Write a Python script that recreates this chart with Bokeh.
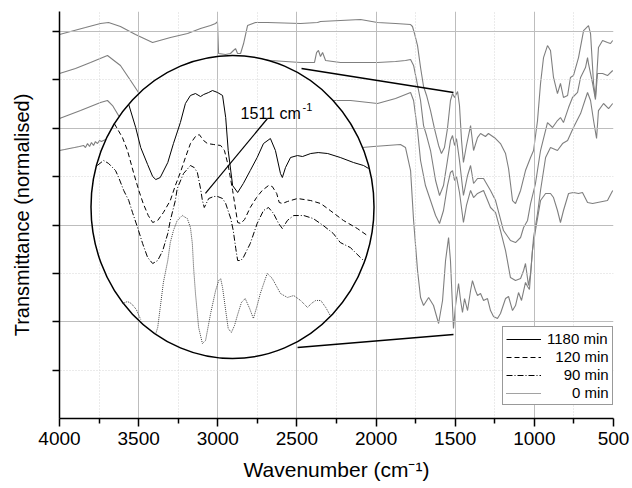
from bokeh.plotting import figure
from bokeh.models import Range1d, FixedTicker, Legend, LegendItem, Label
from bokeh.embed import file_html
from bokeh.resources import INLINE

NAN = float("nan")

# ---------------- data (wavenumber in cm-1, normalised transmittance, offset) ----------------
# main spectra
wn_1180 = [4000, 3930, 3836, 3741, 3690, 3615, 3520, 3412, 3299, 3191, 3109, 3046, 3014, 3002, 2995,
           2951, 2920, 2901, 2888, 2875, 2856, 2837, 2812, 2762, 2686, 2477, 2370, 2351, 2225, 2098,
           1991, 1877, 1782, 1770, 1757, 1738, 1719, 1700, 1681, 1656, 1631, 1605, 1587, 1568, 1549,
           1530, 1517, 1504, 1485, 1473, 1460, 1448, 1429, 1403, 1384, 1359, 1340, 1309, 1290, 1245,
           1214, 1182, 1163, 1151, 1138, 1119, 1087, 1056, 1024, 1005, 980, 961, 942, 917, 898,
           879, 854, 835, 816, 790, 772, 753, 721, 689, 658, 645, 626, 614, 595, 569, 538, 519, 505]
t_1180 = [3.969, 4.000, 4.041, 4.083, 4.093, 4.052, 3.969, 3.886, 3.938, 3.979, 4.031, 4.062, 4.083, 4.103, 3.773,
          3.762, 3.773, 3.804, 3.824, 3.773, 3.773, 3.876, 4.062, 4.093, 4.093, 4.083, 4.093, 4.103, 4.114, 4.124,
          4.093, 4.083, 4.072, 4.052, 3.979, 3.855, 3.628, 3.432, 3.339, 3.183, 2.997, 2.822, 2.739, 2.801, 2.997,
          3.287, 3.359, 3.318, 3.380, 3.235, 2.873, 2.646, 2.822, 3.028, 2.770, 2.904, 2.946, 2.915, 2.946, 2.894,
          2.842, 2.739, 2.584, 2.429, 2.253, 2.222, 2.357, 2.563, 2.698, 2.770, 3.080, 3.463, 3.731, 3.855, 3.804,
          3.525, 3.359, 3.463, 3.318, 3.339, 3.525, 3.545, 3.731, 4.010, 4.062, 3.979, 3.463, 3.318, 3.835, 3.907,
          3.886, 3.876, 3.907]

wn_120 = [4000, 3899, 3804, 3697, 3615, 3551, 3501, 3362, 3109, 2983, 2875, 2812, 2762, 2667, 2477,
          2389, 2376, 2364, 2351, 2338, 2319, 2225, 1991, 1877, 1814, 1782, 1763, 1744, 1719, 1700,
          1681, 1656, 1624, 1599, 1574, 1549, 1530, 1517, 1504, 1492, 1473, 1448, 1422, 1403, 1384,
          1359, 1321, 1277, 1245, 1195, 1151, 1119, 1087, 1068, 1043, 1024, 993, 961, 917, 885,
          854, 835, 816, 784, 759, 727, 708, 677, 664, 658, 632, 614, 601, 569, 538, 505]
t_120 = [3.566, 3.618, 3.680, 3.752, 3.649, 3.494, 3.370, 3.183, 3.287, 3.390, 3.660, 3.731, 3.721, 3.700, 3.680,
         3.680, 3.783, 3.804, 3.742, 3.783, 3.700, 3.680, 3.680, 3.690, 3.700, 3.711, 3.649, 3.494, 3.287, 3.028,
         2.925, 2.770, 2.460, 2.305, 2.408, 2.667, 2.873, 2.925, 2.822, 2.894, 2.667, 2.305, 2.512, 2.615, 2.429,
         2.481, 2.481, 2.357, 2.253, 1.943, 1.840, 1.819, 1.871, 1.974, 2.047, 2.222, 2.429, 2.770, 3.059, 3.008,
         3.080, 3.111, 3.059, 3.214, 3.318, 3.370, 3.525, 3.628, 3.731, 3.669, 3.463, 3.297, 3.566, 3.566, 3.545,
         3.597]

wn_90 = [4000, 3867, 3741, 3697, 3665, 3627, 3488, 3236, 2793, 2477, 2288, 2161, 1991, 1877, 1782,
         1763, 1738, 1719, 1688, 1656, 1624, 1599, 1574, 1549, 1530, 1517, 1504, 1492, 1473, 1448,
         1429, 1403, 1384, 1359, 1321, 1277, 1245, 1214, 1182, 1151, 1119, 1087, 1068, 1056, 1037,
         1024, 1005, 980, 961, 929, 898, 854, 822, 790, 753, 708, 664, 645, 626, 607,
         595, 563, 531, 505]
t_90 = [3.101, 3.183, 3.266, 3.287, 3.235, 3.132, 2.925, 2.977, 3.080, 3.183, 3.287, 3.287, 3.256, 3.308, 3.370,
        3.287, 2.977, 2.667, 2.408, 2.253, 2.098, 2.016, 2.150, 2.408, 2.543, 2.563, 2.460, 2.501, 2.336, 2.026,
        2.202, 2.357, 2.284, 2.326, 2.357, 2.181, 2.129, 1.943, 1.736, 1.457, 1.426, 1.447, 1.530, 1.602, 1.375,
        1.499, 1.871, 2.119, 2.357, 2.698, 2.801, 2.770, 2.842, 2.873, 3.008, 3.152, 3.370, 3.287, 3.080, 2.894,
        3.183, 3.256, 3.204, 3.256]

wn_0 = [4000, 3968, 3937, 3905, 3874, 3848, 3836, 3823, 3810, 3798, 3785, 3773, 3760, 3747, 3735,
        3709, 3551, 3109, 2477, 2161, 2016, 1846, 1814, 1782, 1763, 1738, 1719, 1700, 1668, 1637,
        1605, 1580, 1561, 1542, 1530, 1511, 1498, 1479, 1466, 1454, 1441, 1422, 1403, 1391, 1372,
        1359, 1340, 1321, 1296, 1277, 1258, 1233, 1214, 1182, 1163, 1138, 1119, 1100, 1081, 1056,
        1043, 1031, 1012, 993, 961, 929, 898, 879, 854, 835, 816, 784, 753, 721, 696,
        664, 632, 601, 538, 505]
t_0 = [2.770, 2.780, 2.791, 2.801, 2.811, 2.822, 2.801, 2.842, 2.811, 2.853, 2.822, 2.863, 2.842, 2.873, 2.863,
       2.884, 2.770, 2.718, 2.770, 2.791, 2.811, 2.832, 2.801, 2.563, 2.047, 1.530, 1.251, 1.168, 1.251, 1.168,
       0.982, 1.220, 1.633, 1.871, 1.633, 0.930, 1.168, 1.395, 1.220, 1.096, 1.240, 1.116, 1.323, 1.426, 1.323,
       1.271, 1.292, 1.220, 1.240, 1.116, 1.054, 1.034, 1.085, 1.240, 1.261, 1.116, 1.168, 1.302, 1.220, 1.406,
       1.364, 1.333, 1.736, 1.943, 2.253, 2.326, 2.326, 2.284, 2.150, 2.026, 2.150, 2.326, 2.336, 2.326, 2.336,
       2.233, 2.222, 2.233, 2.253, 2.357]

# magnified inset (1511 cm-1 region)
iwn_1180 = [1630, 1619, 1611, 1600, 1592, 1587, 1580, 1568, 1559, 1548, 1540, 1532, 1524, 1516, 1511,
            1503, 1497, 1489, 1481, 1476, 1472, 1465, 1457, 1448, 1437, 1426, 1416, 1405, 1397, 1389,
            1386, 1381, 1373, 1362, 1354, 1341, 1329, 1314, 1294, 1273, 1257, 1249]
it_1180 = [3.245, 3.008, 2.801, 2.625, 2.501, 2.470, 2.491, 2.646, 2.842, 3.059, 3.256, 3.339, 3.359, 3.328, 3.349,
           3.370, 3.390, 3.370, 3.339, 3.111, 2.770, 2.408, 2.336, 2.429, 2.563, 2.698, 2.842, 2.894, 2.770, 2.532,
           2.491, 2.594, 2.698, 2.718, 2.708, 2.739, 2.749, 2.739, 2.698, 2.646, 2.615, 2.584]

iwn_120 = [1653, 1640, 1632, 1622, 1614, 1607, 1599, 1592, 1584, 1575, 1564, 1556, 1548, 1540, 1532,
           1524, 1518, 1511, 1505, 1495, 1484, 1478, 1472, 1465, 1460, 1457, 1452, 1446, 1437, 1427,
           1418, 1408, 1402, 1395, 1391, 1386, 1378, 1362, 1341, 1325, 1310, 1289, 1267, 1251]
it_120 = [3.049, 2.904, 2.770, 2.532, 2.357, 2.222, 2.098, 2.026, 2.047, 2.129, 2.253, 2.408, 2.543, 2.698, 2.842,
          2.915, 2.935, 2.873, 2.842, 2.832, 2.822, 2.770, 2.615, 2.357, 2.150, 2.026, 2.016, 2.057, 2.181, 2.284,
          2.357, 2.408, 2.398, 2.326, 2.233, 2.222, 2.243, 2.274, 2.253, 2.222, 2.150, 2.047, 1.964, 1.891]

iwn_90 = [1680, 1670, 1662, 1651, 1646, 1638, 1630, 1624, 1616, 1608, 1600, 1592, 1584, 1576, 1568,
          1564, 1556, 1553, 1543, 1532, 1526, 1521, 1516, 1513, 1510, 1503, 1495, 1489, 1481, 1476,
          1468, 1464, 1460, 1457, 1452, 1448, 1437, 1426, 1416, 1408, 1400, 1392, 1386, 1378, 1368,
          1352, 1337, 1321, 1305, 1294, 1278, 1262, 1257]
it_90 = [2.615, 2.667, 2.636, 2.563, 2.491, 2.357, 2.253, 2.129, 1.974, 1.809, 1.664, 1.602, 1.633, 1.736, 1.912,
         2.047, 2.253, 2.377, 2.532, 2.615, 2.594, 2.543, 2.377, 2.253, 2.181, 2.274, 2.295, 2.295, 2.274, 2.222,
         2.067, 1.943, 1.757, 1.633, 1.633, 1.664, 1.809, 2.016, 2.150, 2.181, 2.119, 2.016, 1.964, 2.047, 2.098,
         2.098, 2.067, 1.995, 1.912, 1.819, 1.767, 1.664, 1.633]

iwn_0 = [1640, 1632, 1626, 1618, 1611, NAN, 1587, 1584, 1580, 1575, 1568, 1564, 1559, 1553, 1545,
         1537, 1532, 1529, 1527, 1524, 1519, 1513, 1508, 1500, 1492, 1487, 1484, 1481, 1476, 1472,
         1467, 1462, 1457, 1451, 1445, 1438, 1432, 1426, 1421, 1414, 1410, 1402, 1395, 1389, 1378,
         1368, 1357, 1346, 1340, 1333, 1325, 1317, 1310]
it_0 = [1.189, 1.209, 1.189, 1.127, 1.023, NAN, 0.879, 0.941, 1.147, 1.406, 1.633, 1.819, 1.943, 2.047, 2.098,
        2.067, 1.974, 1.809, 1.561, 1.292, 0.941, 0.775, 0.806, 1.085, 1.323, 1.426, 1.447, 1.354, 1.116, 0.930,
        0.889, 0.961, 1.075, 1.199, 1.240, 1.137, 1.034, 1.168, 1.292, 1.426, 1.499, 1.447, 1.364, 1.292, 1.251,
        1.271, 1.220, 1.147, 1.189, 1.220, 1.220, 1.147, 1.065]

legend_labels = ["1180 min", "\u2007120 min", "\u2007\u200790 min", "\u2007\u2007\u20070 min"]

x_major = [4000, 3500, 3000, 2500, 2000, 1500, 1000, 500]
x_minor = [3750, 3250, 2750, 2250, 1750, 1250, 750]
x_grid = [3500, 3000, 2500, 2000, 1500, 1000]
y_major = [1, 2, 3, 4]
y_minor = [0.5, 1.5, 2.5, 3.5]
y_ticks = [0.5, 1, 1.5, 2, 2.5, 3, 3.5, 4]

FONT = "Liberation Sans"
GRAY = "#7f7f7f"

p = figure(width=632, height=488, output_backend="svg", toolbar_location=None, title=None,
           x_range=Range1d(4000, 500), y_range=Range1d(0, 4.207),
           min_border_left=59, min_border_right=19, min_border_top=11, min_border_bottom=70)
p.extra_x_ranges = {"inset": Range1d(1740, 860)}
p.outline_line_color = None
p.background_fill_color = "white"
p.border_fill_color = "white"

xa = p.xaxis[0]
xa.ticker = FixedTicker(ticks=x_major, minor_ticks=x_minor)
xa.axis_label = "Wavenumber (cm\u207b\u00b9)"
xa.axis_label_text_font = FONT
xa.axis_label_text_font_size = "21px"
xa.axis_label_text_font_style = "normal"
xa.axis_label_text_color = "black"
xa.axis_label_standoff = 10
xa.major_label_text_font = FONT
xa.major_label_text_font_size = "19px"
xa.major_label_text_color = "black"
xa.major_label_standoff = 5
xa.major_tick_out = 8
xa.major_tick_in = 0
xa.minor_tick_out = 5
xa.minor_tick_in = 0
xa.axis_line_width = 1.5
xa.major_tick_line_width = 1.5
xa.minor_tick_line_width = 1.5
xa.axis_line_color = "black"
xa.major_tick_line_color = "black"
xa.minor_tick_line_color = "black"

ya = p.yaxis[0]
# the y axis carries unlabelled ticks only
ya.ticker = FixedTicker(ticks=[], minor_ticks=y_ticks)
ya.axis_label = "Transmittance (normalised)"
ya.axis_label_text_font = FONT
ya.axis_label_text_font_size = "20px"
ya.axis_label_text_font_style = "normal"
ya.axis_label_text_color = "black"
ya.axis_label_standoff = 20
ya.major_label_standoff = 0
ya.major_tick_out = 8
ya.major_tick_in = 0
ya.minor_tick_out = 7
ya.minor_tick_in = 0
ya.axis_line_width = 1.5
ya.minor_tick_line_width = 1.5
ya.axis_line_color = "black"
ya.minor_tick_line_color = "black"

p.xgrid.ticker = FixedTicker(ticks=x_grid, minor_ticks=x_minor)
p.ygrid.ticker = FixedTicker(ticks=y_major, minor_ticks=y_minor)
for g in (p.xgrid[0], p.ygrid[0]):
    g.grid_line_color = "#bdbdbd"
    g.grid_line_width = 1
    g.minor_grid_line_color = "#d6d6d6"
    g.minor_grid_line_dash = "1 2"
    g.minor_grid_line_width = 1

# main spectra (drawn first, beneath the inset disc)
for wn, t in ((wn_1180, t_1180), (wn_120, t_120), (wn_90, t_90), (wn_0, t_0)):
    p.line(wn, t, line_color=GRAY, line_width=1.1, level="image")

# inset disc (white) and outline
disc = dict(x=[2907], y=[2.186], width=1788, height=3.132)
p.ellipse(**disc, fill_color="white", line_color=None, level="image")
p.ellipse(**disc, fill_color=None, line_color="black", line_width=1.5)

# inset spectra
r1 = p.line(iwn_1180, it_1180, x_range_name="inset", line_color="black", line_width=1)
r2 = p.line(iwn_120, it_120, x_range_name="inset", line_color="black", line_width=1, line_dash="5 3")
r3 = p.line(iwn_90, it_90, x_range_name="inset", line_color="black", line_width=1, line_dash="6 2 1 2")
r4 = p.line(iwn_0, it_0, x_range_name="inset", line_color="#444444", line_width=1, line_dash="1 1")

# connector lines to the 1511 cm-1 band and label leader
p.line([2471, 1511], [3.618, 3.37], line_color="black", line_width=1.5)
p.line([2496, 1511], [0.734, 0.868], line_color="black", line_width=1.5)
p.line([2686, 3078], [3.101, 2.326], line_color="black", line_width=1.2)

p.add_layout(Label(x=2856, y=3.152, text="1511 cm", text_font=FONT, text_font_size="16px",
                   text_color="black", text_baseline="alphabetic"))
p.add_layout(Label(x=2465, y=3.225, text="-1", text_font=FONT, text_font_size="11px",
                   text_color="black", text_baseline="alphabetic"))

legend = Legend(items=[LegendItem(label=legend_labels[0], renderers=[r1]),
                       LegendItem(label=legend_labels[1], renderers=[r2]),
                       LegendItem(label=legend_labels[2], renderers=[r3]),
                       LegendItem(label=legend_labels[3], renderers=[r4])],
                location=(443, 13), label_text_font=FONT, label_text_font_size="15px",
                label_text_color="black", glyph_width=35, glyph_height=16, label_height=16,
                label_standoff=6, padding=3, spacing=1, margin=0,
                border_line_color="#333333", border_line_width=1,
                background_fill_color="white", background_fill_alpha=1)
p.add_layout(legend)

open("out.html", "w").write(file_html(p, INLINE))
